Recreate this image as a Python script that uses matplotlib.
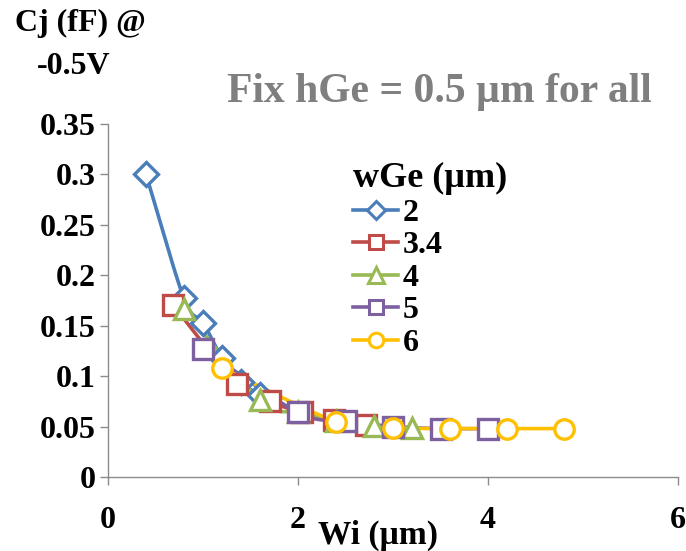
import numpy as np
import matplotlib
matplotlib.use("Agg")
import matplotlib.pyplot as plt

# Junction capacitance vs. intrinsic width, one series per Ge width
wge_labels = ["2", "3.4", "4", "5", "6"]

wi_2 = [0.4, 0.8, 1.0, 1.2, 1.4, 1.6]
cj_2 = [0.300, 0.177, 0.153, 0.118, 0.094, 0.081]

wi_34 = [0.68, 1.36, 1.7, 2.04, 2.38, 2.72]
cj_34 = [0.171, 0.092, 0.075, 0.064, 0.057, 0.052]

wi_4 = [0.8, 1.6, 2.0, 2.4, 2.8, 3.2]
cj_4 = [0.167, 0.076, 0.064, 0.056, 0.051, 0.049]

wi_5 = [1.0, 2.0, 2.5, 3.0, 3.5, 4.0]
cj_5 = [0.127, 0.064, 0.056, 0.050, 0.048, 0.048]

wi_6 = [1.2, 2.4, 3.0, 3.6, 4.2, 4.8]
cj_6 = [0.108, 0.055, 0.049, 0.048, 0.048, 0.048]

x_ticks = [0, 2, 4, 6]
y_ticks = [0, 0.05, 0.1, 0.15, 0.2, 0.25, 0.3, 0.35]
y_tick_labels = ["0", "0.05", "0.1", "0.15", "0.2", "0.25", "0.3", "0.35"]

series = [
    (wi_2, cj_2, "#4A7EBB", "D", 12),
    (wi_34, cj_34, "#BE4B48", "s", 14),
    (wi_4, cj_4, "#98B954", "^", 15),
    (wi_5, cj_5, "#7D60A0", "s", 14),
    (wi_6, cj_6, "#FFC000", "o", 14),
]

FONT = "Liberation Serif"
TICK_SIZE = 23


def smooth(xs, ys, n=30):
    """Catmull-Rom curve through the points (like a spreadsheet's smoothed line)."""
    p = np.column_stack([xs, ys]).astype(float)
    p = np.vstack([p[0] * 2 - p[1], p, p[-1] * 2 - p[-2]])
    out = []
    t = np.linspace(0, 1, n)[:, None]
    for i in range(1, len(p) - 2):
        p0, p1, p2, p3 = p[i - 1], p[i], p[i + 1], p[i + 2]
        c1 = p1 + (p2 - p0) / 6.0
        c2 = p2 - (p3 - p1) / 6.0
        seg = ((1 - t) ** 3) * p1 + 3 * ((1 - t) ** 2) * t * c1 + 3 * (1 - t) * t ** 2 * c2 + t ** 3 * p2
        out.append(seg if i == 1 else seg[1:])
    c = np.vstack(out)
    return c[:, 0], c[:, 1]


fig = plt.figure(figsize=(6.86, 5.51), dpi=100)
ax = fig.add_axes([108 / 686, 74 / 551, 570 / 686, 353 / 551])

handles = []
for (xs, ys, col, mk, ms), lab in zip(series, wge_labels):
    sx, sy = smooth(xs, ys)
    ax.plot(sx, sy, color=col, lw=2.6, solid_capstyle="round", zorder=2)
    ax.plot(xs, ys, ls="none", marker=mk, ms=ms, mfc="white", mec=col,
            mew=2.4, zorder=3)
    h, = ax.plot([], [], color=col, lw=2.6, marker=mk, ms=ms * 0.75,
                 mfc="white", mec=col, mew=2.2, label=lab)
    handles.append(h)

ax.set_xlim(0, 6)
ax.set_ylim(0, 0.35)
ax.set_xticks(x_ticks)
ax.set_xticklabels([str(v) for v in x_ticks])
ax.set_yticks(y_ticks)
ax.set_yticklabels(y_tick_labels)

for s in ["top", "right"]:
    ax.spines[s].set_visible(False)
for s in ["left", "bottom"]:
    ax.spines[s].set_color("#8C8C8C")
    ax.spines[s].set_linewidth(1.0)
ax.tick_params(axis="both", colors="#8C8C8C", length=6, width=1.0)
ax.tick_params(axis="x", pad=15)
ax.tick_params(axis="y", pad=3)
for lbl in ax.get_xticklabels() + ax.get_yticklabels():
    lbl.set_fontfamily(FONT)
    lbl.set_fontweight("bold")
    lbl.set_fontsize(TICK_SIZE)
    lbl.set_color("black")

ax.set_xlabel("Wi (\u00b5m)", fontfamily=FONT, fontweight="bold", fontsize=24)
ax.xaxis.set_label_coords((378 - 108) / 570, -0.165)
ax.xaxis.label.set_va("center")

# Y-axis title, two lines above the axis
fig.text(80 / 686, 1 - 23 / 551, "Cj (fF) @", fontfamily=FONT,
         fontweight="bold", fontsize=23, ha="center", va="center")
fig.text(74 / 686, 1 - 66 / 551, "-0.5V", fontfamily=FONT,
         fontweight="bold", fontsize=23, ha="center", va="center")

fig.text(439 / 686, 1 - 92 / 551, "Fix hGe = 0.5 \u00b5m for all",
         fontfamily=FONT, fontweight="bold", fontsize=30, color="#7F7F7F",
         ha="center", va="center")

leg = ax.legend(handles=handles, title="wGe (\u00b5m)", loc="upper left",
                bbox_to_anchor=(350 / 686, 1 - 159 / 551),
                bbox_transform=fig.transFigure, frameon=False,
                prop={"family": FONT, "weight": "bold", "size": 23},
                title_fontproperties={"family": FONT, "weight": "bold", "size": 26},
                alignment="left", handlelength=1.4, handletextpad=0.15,
                labelspacing=0.1, borderpad=0.1, borderaxespad=0.0)

fig.savefig("out.png", dpi=100)
